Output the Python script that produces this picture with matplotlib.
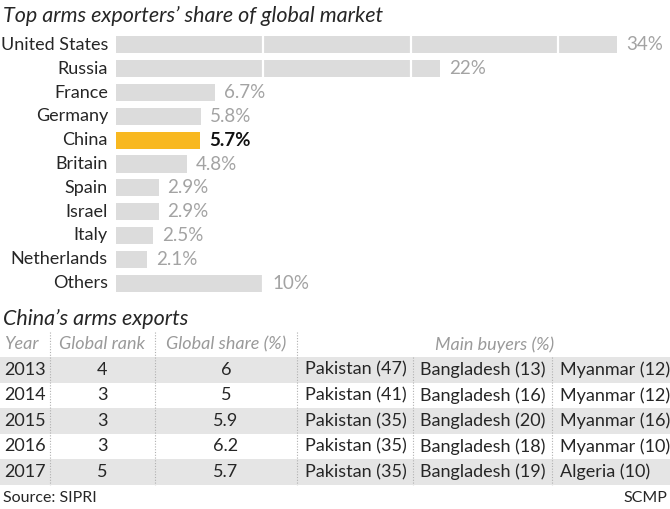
import matplotlib.pyplot as plt
from matplotlib.patches import Rectangle

plt.rcParams['font.family'] = ['Lato', 'DejaVu Sans']

# bar chart data
countries = ['United States', 'Russia', 'France', 'Germany', 'China', 'Britain',
             'Spain', 'Israel', 'Italy', 'Netherlands', 'Others']
shares = [34, 22, 6.7, 5.8, 5.7, 4.8, 2.9, 2.9, 2.5, 2.1, 10]
share_labels = ['34%', '22%', '6.7%', '5.8%', '5.7%', '4.8%', '2.9%', '2.9%',
                '2.5%', '2.1%', '10%']

# table data
years = ['2013', '2014', '2015', '2016', '2017']
ranks = ['4', '3', '3', '3', '5']
global_share = ['6', '5', '5.9', '6.2', '5.7']
buyer1 = ['Pakistan (47)', 'Pakistan (41)', 'Pakistan (35)', 'Pakistan (35)', 'Pakistan (35)']
buyer2 = ['Bangladesh (13)', 'Bangladesh (16)', 'Bangladesh (20)', 'Bangladesh (18)', 'Bangladesh (19)']
buyer3 = ['Myanmar (12)', 'Myanmar (12)', 'Myanmar (16)', 'Myanmar (10)', 'Algeria (10)']

W, H = 670, 509
fig = plt.figure(figsize=(6.7, 5.09), dpi=100)

grey_bar = '#dcdcdc'
china_col = '#f8b820'
val_grey = '#a3a3a3'
dark = '#262626'

fig.text(3 / W, 1 - 16 / H, 'Top arms exporters\u2019 share of global market',
         style='italic', fontsize=15.5, color=dark, va='center', ha='left')

# ---- bars
ax = fig.add_axes([116 / W, 1 - 295 / H, (W - 116) / W, 262 / H])
px_per_pct = 501 / 34
ax.set_xlim(0, (W - 116) / px_per_pct)
ax.set_ylim(len(countries) - 0.5, -0.5)
ax.axis('off')

cols = [china_col if c == 'China' else grey_bar for c in countries]
ax.barh(range(len(countries)), shares, height=0.72, color=cols, zorder=1)
for g in [10, 20, 30]:
    ax.axvline(g, color='white', lw=1.6, zorder=2)

for i, (c, v, lab) in enumerate(zip(countries, shares, share_labels)):
    ax.text(-0.55, i, c, ha='right', va='center', fontsize=13, color=dark)
    if c == 'China':
        ax.text(v + 0.6, i, lab, ha='left', va='center', fontsize=13.5,
                color='#111111', fontweight='bold')
    else:
        ax.text(v + 0.6, i, lab, ha='left', va='center', fontsize=13.5, color=val_grey)

# ---- table
tx = fig.add_axes([0, 0, 1, (H - 306) / H])
tx.set_xlim(0, W)
tx.set_ylim(5.45, -2.5)
tx.axis('off')

tx.text(3, -2, 'China\u2019s arms exports', style='italic', fontsize=15.5,
        color=dark, va='center', ha='left')

hdr_col = '#9a9a9a'
tx.text(4, -1, 'Year', style='italic', fontsize=13, color=hdr_col, va='center', ha='left')
tx.text(102, -1, 'Global rank', style='italic', fontsize=13, color=hdr_col, va='center', ha='center')
tx.text(226, -1, 'Global share (%)', style='italic', fontsize=13, color=hdr_col, va='center', ha='center')
tx.text(495, -1, 'Main buyers (%)', style='italic', fontsize=13, color=hdr_col, va='center', ha='center')

for i in range(len(years)):
    if i % 2 == 0:
        tx.add_patch(Rectangle((0, i - 0.5), W, 1, color='#e5e5e5', zorder=0, lw=0))
    tx.text(4, i, years[i], fontsize=13, color=dark, va='center', ha='left')
    tx.text(102, i, ranks[i], fontsize=13, color=dark, va='center', ha='center')
    tx.text(226, i, global_share[i], fontsize=13, color=dark, va='center', ha='center')
    tx.text(305, i, buyer1[i], fontsize=13, color=dark, va='center', ha='left')
    tx.text(420, i, buyer2[i], fontsize=13, color=dark, va='center', ha='left')
    tx.text(560, i, buyer3[i], fontsize=13, color=dark, va='center', ha='left')

for xs in [50, 155, 297, 413, 552]:
    if xs > 297:
        y0 = -0.5
    else:
        y0 = -1.5
    tx.plot([xs, xs], [y0, len(years) - 0.5], color='#b0b0b0', lw=0.8,
            ls=(0, (1, 1.5)), zorder=3)

tx.text(3, 5, 'Source: SIPRI', fontsize=11.5, color=dark, va='center', ha='left')
tx.text(W - 3, 5, 'SCMP', fontsize=11.5, color=dark, va='center', ha='right')

fig.savefig('out.png', dpi=100)
